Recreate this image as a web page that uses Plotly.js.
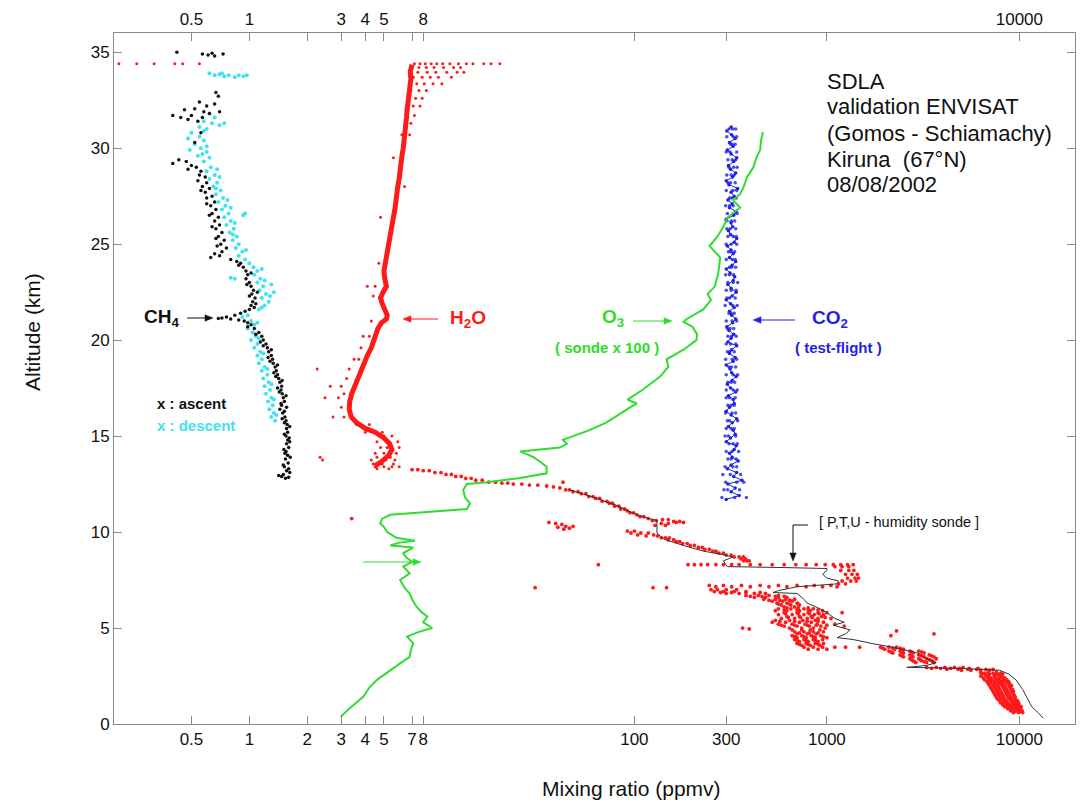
<!DOCTYPE html>
<html>
<head>
<meta charset="utf-8">
<script src="https://cdn.plot.ly/plotly-3.0.1.min.js"></script>
<style>html,body{margin:0;padding:0;background:#fff;}#chart{width:1080px;height:803px;}</style>
</head>
<body>
<div id="chart"></div>
<script>
// ---------------- DATA (altitude km, mixing ratio ppmv) ----------------
const xTickVals = [0.5, 1, 2, 3, 4, 5, 7, 8, 100, 300, 1000, 10000];
const xTickTextBottom = ['0.5', '1', '2', '3', '4', '5', '7', '8', '100', '300', '1000', '10000'];
const xTopLabelVals = [0.5, 1, 3, 4, 5, 8, 10000];
const xTopLabelText = ['0.5', '1', '3', '4', '5', '8', '10000'];
const xTopPlainTicks = [2, 7, 100, 300, 1000];
const yTickVals = [0, 5, 10, 15, 20, 25, 30, 35];

// CH4 ascent (black) [alt, ppmv]
const ch4Ascent = [
 [35.0,0.42],[34.9,0.57],[34.85,0.61],[34.95,0.64],[34.8,0.66],[34.9,0.73],
 [32.9,0.67],[32.7,0.69],
 [32.4,0.55],[32.2,0.60],[32.3,0.66],[32.0,0.46],[32.05,0.52],[31.9,0.58],[31.8,0.62],[31.9,0.70],
 [31.7,0.40],[31.6,0.44],[31.7,0.50],[31.5,0.48],[31.4,0.54],[31.6,0.57],
 [30.8,0.56],[30.3,0.52],
 [29.4,0.43],[29.3,0.47],[29.2,0.40],[29.1,0.50],[29.0,0.53],[28.9,0.48],[28.8,0.56],
 [28.6,0.55],[28.5,0.59],[28.3,0.54],[28.2,0.60],[28.0,0.57],[27.9,0.62],[27.7,0.59],[27.5,0.64],
 [27.4,0.60],[27.2,0.66],[27.0,0.63],[26.8,0.67],[26.6,0.64],[26.4,0.69],[26.2,0.66],[26.0,0.70],
 [25.8,0.67],[25.6,0.72],[25.4,0.69],[25.2,0.74],[25.0,0.71],[24.8,0.76],[24.6,0.72],[24.5,0.66],
 [24.4,0.70],[24.3,0.63],[24.2,0.80],[24.1,0.86],[24.0,0.90],[23.8,0.93],[23.6,0.96],[23.4,0.98],
 [23.2,0.96],[23.0,1.00],[22.8,1.02],[22.6,1.05],[22.4,1.03],[22.2,1.07],[22.0,1.04],[21.8,1.02],
 [21.6,1.00],[21.5,0.95],[21.4,0.90],[21.3,0.84],[21.2,0.76],[21.15,0.72],[21.12,0.69],[21.1,0.80],[21.05,0.88],
 [21.0,0.94],[20.9,0.98],[20.8,1.02],[20.6,1.06],[20.4,1.12],[20.2,1.16],[20.0,1.18],[19.8,1.22],
 [19.6,1.24],[19.4,1.26],[19.2,1.30],[19.0,1.32],[18.8,1.33],[18.6,1.36],[18.4,1.38],[18.2,1.40],
 [18.0,1.42],[17.8,1.44],[17.6,1.47],[17.4,1.46],[17.2,1.48],[17.0,1.50],[16.8,1.52],[16.6,1.47],
 [16.4,1.44],[16.2,1.49],[16.0,1.53],[15.8,1.55],[15.6,1.57],[15.4,1.56],[15.2,1.58],[15.0,1.55],
 [14.8,1.58],[14.6,1.56],[14.4,1.60],[14.2,1.55],[14.0,1.58],[13.8,1.54],[13.6,1.59],[13.4,1.52],
 [13.2,1.56],[13.0,1.50],[12.9,1.47],[12.8,1.54],
 [23.9,0.88],[23.5,1.02],[22.9,0.97],[22.5,1.10],[21.9,1.08],[20.7,0.98],[20.3,1.08],[19.9,1.14],
 [19.5,1.30],[19.1,1.25],[18.7,1.40],[18.3,1.34],[17.9,1.48],[17.5,1.40],[17.1,1.55],[16.7,1.46],
 [16.3,1.52],[15.9,1.48],[15.5,1.62],[15.1,1.52],[14.7,1.62],[14.3,1.51],[13.9,1.63],[13.5,1.50],
 [13.1,1.62],[12.95,1.42],[12.85,1.60],
 [27.8,0.56],[27.1,0.60],[26.5,0.62],[25.9,0.64],[25.3,0.67],[24.9,0.68],[22.3,1.00],[21.7,1.06],
 [19.7,1.18],[18.9,1.28],[18.1,1.37],[17.3,1.43],[16.5,1.56],[15.7,1.52],[14.9,1.61],[14.1,1.53],[13.3,1.60]
];

// CH4 descent (cyan) [alt, ppmv]
const ch4Descent = [
 [33.9,0.62],[33.8,0.66],[33.85,0.70],[33.75,0.74],[33.8,0.78],[33.7,0.84],[33.8,0.88],[33.75,0.93],[33.8,0.97],[33.9,0.72],
 [31.8,0.62],[31.6,0.66],[31.4,0.58],[31.3,0.64],[31.2,0.70],[31.1,0.55],[31.0,0.60],[31.3,0.74],
 [30.8,0.50],[30.6,0.55],[30.5,0.48],[30.4,0.58],[30.2,0.52],[30.0,0.56],[29.9,0.49],[29.8,0.60],[29.6,0.54],[29.5,0.62],
 [29.3,0.58],[29.0,0.63],[28.8,0.60],[28.6,0.66],[28.4,0.62],[28.2,0.68],[28.0,0.65],[27.8,0.71],
 [27.6,0.67],[27.4,0.73],[27.2,0.69],[27.0,0.75],
 [26.8,0.72],[26.6,0.78],[26.4,0.74],[26.2,0.80],[26.0,0.76],[25.8,0.83],[25.6,0.79],[25.4,0.86],
 [25.2,0.82],[25.0,0.88],[24.8,0.85],[24.6,0.92],[24.4,0.88],[24.2,0.95],[26.5,0.93],[26.6,0.95],
 [24.0,1.00],[23.8,1.05],[23.6,1.10],[23.4,1.06],[23.2,1.14],[23.0,1.10],[22.8,1.18],[22.6,1.13],
 [22.4,1.22],[22.2,1.16],[22.0,1.26],[21.8,1.20],[21.6,1.12],[22.9,1.30],[22.5,1.34],
 [23.25,0.80],[23.2,0.84],[21.3,0.98],[21.2,0.92],
 [21.0,1.02],[20.8,1.06],[20.6,0.98],[20.4,1.04],[20.2,1.08],[20.0,1.02],[19.8,1.10],[19.6,1.06],
 [19.4,1.14],[19.2,1.10],
 [19.0,1.16],[18.8,1.12],[18.6,1.20],[18.4,1.16],[18.2,1.24],[18.0,1.18],[17.8,1.26],[17.6,1.20],
 [17.4,1.28],[17.2,1.22],[17.0,1.30],[16.8,1.25],[16.6,1.32],[16.4,1.27],[16.2,1.34],[16.0,1.30],[15.8,1.36],
 [30.9,0.58],[30.1,0.60],[29.7,0.57],[28.9,0.68],[28.5,0.70],[27.9,0.67],[27.3,0.77],[26.9,0.80],
 [26.1,0.84],[25.5,0.82],[24.7,0.96],[23.7,1.16],[23.1,1.20],[22.3,1.28],[21.7,1.16],[20.9,1.10],
 [20.1,1.12],[19.3,1.18],[18.5,1.24],[17.7,1.30],[16.9,1.34],[16.1,1.38]
];

// H2O core profile (red band), stratosphere
const h2oCoreAlt = [34.35,34.0,33.6,33.2,32.8,32.4,32.0,31.6,31.2,30.8,30.4,30.0,29.6,29.2,28.8,28.4,28.0,27.6,27.2,26.8,26.4,26.0,25.6,25.2,24.8,24.4,24.0,23.6,23.2,22.8,22.5,22.2,21.9,21.6,21.3,21.1,20.9,20.6,20.3,20.0,19.6,19.2,18.8,18.4,18.0,17.6,17.2,16.8,16.4,16.0,15.7,15.4,15.2,14.9,14.6,14.3,14.0,13.7,13.45];
const h2oCoreVal = [7.0,6.85,6.9,6.8,6.75,6.7,6.6,6.55,6.5,6.4,6.35,6.3,6.2,6.15,6.05,6.0,5.9,5.85,5.75,5.7,5.6,5.5,5.4,5.35,5.25,5.15,5.05,5.0,5.05,5.15,4.95,4.8,4.9,5.05,5.2,5.15,4.85,4.65,4.55,4.45,4.3,4.1,3.95,3.8,3.65,3.5,3.4,3.32,3.3,3.38,3.6,4.0,4.5,5.0,5.35,5.5,5.3,4.9,4.5];

// H2O scattered points [alt, ppmv, ppmv, ...]
const h2oStratRows = [
 [34.4,0.21,0.26,0.32,0.41,0.45,0.55,7.2,7.7,8.2,8.8,9.4,10.1,11.0,12.2,13.4,14.5,16.5,18.0,20.0],
 [34.2,7.0,7.6,8.3,9.1,10.2,11.5,12.5],[33.95,6.9,7.5,8.4,9.3,10.6,12.0,13.0],
 [33.7,7.1,7.9,8.7,9.6,11.2],[33.35,6.8,7.4,8.1,9.0,10.0],[33.0,6.9,7.6,8.3],
 [32.6,6.7,7.3,7.9],[32.2,6.6,7.1,7.7],[31.7,6.5,7.2],[31.3,6.45,6.9],[30.7,6.2,6.8],
 [29.5,5.6],[28.0,6.4],[26.4,4.8],[24.0,4.7],[22.8,4.1,4.5],[22.3,4.4],[21.0,4.3],
 [20.2,3.9,4.2],[19.6,3.8],[19.0,3.7,3.5],[18.5,3.3,2.25],[18.0,3.2],[17.6,2.63,3.0],
 [17.2,3.1],[17.0,2.47,2.9],[16.5,3.0],[16.0,3.1,2.72],[15.6,3.6,4.2],[15.2,4.0,4.9],
 [15.0,5.0,5.5],[14.7,4.6,5.9],[14.4,4.8,5.2,6.0],[14.1,4.5,5.0,5.8],[13.9,2.33,4.6,5.4],
 [13.75,2.4,4.3,5.1,5.7],[13.55,4.4,4.9,5.6],[13.4,4.5,5.0,5.5,6.0],[13.3,4.6,5.3]
];
const h2oTropoRows = [
 [13.25,7.0,7.5],[13.2,8.0,8.6],[13.1,9.2,9.9],[13.0,10.5,11.2],[12.9,11.8,12.6],[12.8,13.3,14.2],
 [12.7,15.0,16.2],[12.6,17.5,19.0,42.6],[12.55,20.5,22.0],[12.5,23.5,26.0],[12.45,28.5,31.5],
 [12.4,35.0],[12.35,38.0],[12.3,41.0],[12.2,44.0,46.0],[12.1,48.0,51.0],[12.0,53.0,56.0],
 [11.85,58.0,61.0],[11.75,63.0,66.0],[11.6,68.0,72.0],[11.5,74.0,77.0],[11.35,79.0,83.0],
 [11.2,85.0,89.0],[11.1,92.0],[11.0,95.0,99.0],[10.9,103.0],[10.8,107.0,112.0],[10.7,118.0,3.4],
 [10.6,124.0,130.0],[10.65,140,150],[10.55,160,172],[10.5,180,165,36],[10.45,150,138,39],[10.35,128,145],
 [10.4,42],[10.3,44,48],[10.25,40],[10.2,46],[10.15,43],
 [10.05,92,100],[9.95,96,108,118],[9.85,104,126],[9.8,115,132],
 [9.7,138,145,152],[9.6,150,160],[9.5,165,172],[9.4,178,188],[9.3,195,205],[9.2,215,225],
 [9.1,232,245],[9.0,255,265],[8.9,275,290],[8.8,300,318],[8.7,330,350,368],[8.6,358,378],[8.5,370,385,395],
 [8.3,65,190,205,222,240,265,290,320,350,400,450,520,600,690,780,880,980,1080,1180,1280,1370],
 [8.2,1100,1200,1300],[8.0,1180,1300,1380],[7.8,1250,1350,1440],[7.6,1280,1400,1460],
 [7.45,1200,1330,1420],[7.3,1150,1250],
 [7.22,245,290,360,450,560,700,860,1050],[7.15,265,320,400,500,620,780,950,1130],
 [7.1,30.5,125,147],
 [7.0,250,270,300,340],[6.9,260,290,330,380],[6.8,300,350,420,480],[6.7,380,440,500,560],
 [6.6,420,480,560,620],[6.5,470,540,610,680],[6.4,520,590,660],[6.3,550,620,700],[6.2,580,650,720],[6.1,600,680],
 [6.85,280,320,380,450],[6.65,400,460,540,600],[6.45,500,570,640],[6.25,560,640,710],[6.05,620,710,800],
 [6.0,560,650,760,850],[5.9,540,620,720,820,950],[5.8,600,700,800,900,1000,1200],[5.7,560,660,760,860,960],
 [5.6,620,720,830,940],[5.5,580,680,790,900,1050],[5.4,540,640,750,870],[5.3,520,610,720,830,960],
 [5.2,560,660,770,890,1100],[5.1,600,700,810,930,1230],[5.0,640,740,850,980,365],[4.95,395],
 [5.95,600,700,800,900],[5.75,610,710,810,910],[5.55,630,730,840,980],[5.35,570,680,790,900],[5.15,580,680,790,880,1000],
 [4.9,660,740,820,920],[4.85,2300],[4.8,680,760,850,960],[4.7,700,790,880,3600],[4.6,660,740,830,930,2150],
 [4.5,700,780,870,1000],[4.4,680,760,850,950],[4.3,720,800,900],[4.2,700,780,870,960],[4.1,740,820,920],
 [4.75,720,810,900],[4.55,680,760,850,960],[4.45,690,770,860],[4.35,700,780,870],[4.15,720,800,900],
 [4.0,760,850,950,1100,1250,1480,1900,2100,2300],[3.9,800,900,1000,2000,2250,2500],
 [3.8,2100,2400,2700,3000],[3.7,2200,2500,2800,3200],[3.6,2400,2700,3000,3400],[3.5,2500,2800,3200,3600],
 [3.4,2700,3000,3300,3700],[3.3,2800,3100,3500],[3.2,2900,3300,3600],
 [3.95,1950,2200,2400],[3.75,2150,2450,2750,3100],[3.55,2450,2750,3100,3500],[3.35,2750,3050,3400],[3.25,2850,3200,3550],
 [2.95,3300,3700,4100,4600,5100],[2.9,3500,3900,4400,4900,5500,6100],[2.85,4200,4800,5400,6000,6700,7300],
 [2.8,5000,5600,6300,7000],
 [2.7,6300,6900,7600],[2.6,6400,7000,7700,8200],[2.5,6300,6900,7500,8100],[2.4,6500,7100,7800,8400],
 [2.3,6600,7200,7900,8600],[2.2,6800,7400,8100,8800],[2.1,6900,7500,8200,8900],[2.0,7000,7700,8400,9100],
 [1.9,7100,7800,8500],[1.8,7200,7900,8600,9200],[1.7,7300,8000,8700,9300],[1.6,7400,8100,8800],
 [1.5,7500,8200,8900,9400],[1.4,7600,8300,9000,9500],[1.3,7700,8400,9100],[1.2,7900,8600,9300,9800],
 [1.1,8000,8700,9400,9900],[1.0,8200,8900,9600],[0.9,8400,9100,9800,10200],[0.8,8700,9300,10000],
 [0.7,9000,9600,10300],[0.6,9300,9900,10400],
 [2.65,6600,7300,8000],[2.55,6700,7400,7900],[2.45,6800,7400,8100],[2.35,6900,7500,8300],[2.25,7000,7700,8400],
 [2.15,7100,7800,8600],[2.05,7300,8000,8800],[1.95,7400,8200,8900],[1.85,7500,8300,9000],[1.75,7600,8400,9100],
 [1.65,7700,8500,9200],[1.55,7800,8600,9300],[1.45,7900,8700,9400],[1.35,8000,8800,9500],[1.25,8200,9000,9600],
 [1.15,8300,9100,9700],[1.05,8500,9200,9900],[0.95,8700,9400,10000],[0.85,8900,9600,10100],[0.75,9200,9800,10200],
 [0.65,9500,10100]
];

// O3 sonde x 100 (green line)
const o3Alt = [0.38,0.8,1.42,1.9,2.3,2.7,3.16,3.5,3.85,4.2,4.55,4.8,5.0,5.3,5.6,5.85,6.1,6.5,6.8,7.1,7.5,7.85,8.2,8.45,8.7,8.9,9.2,9.3,9.45,9.55,9.7,10.0,10.3,10.45,10.7,10.9,11.05,11.2,11.5,11.8,12.2,12.5,12.6,12.8,13.06,13.4,13.7,13.9,14.2,14.3,14.4,14.6,14.8,15.0,15.3,15.7,16.1,16.5,16.7,16.9,17.4,17.8,18.1,18.6,19.0,19.5,20.0,20.3,20.7,20.95,21.1,21.6,22.1,22.4,22.8,23.5,24.3,24.9,25.4,25.9,26.4,26.9,27.3,27.6,28.0,28.5,29.0,29.5,29.9,30.4,30.85];
const o3Val = [2.98,3.3,3.9,4.2,4.6,5.2,6.07,6.8,6.9,7.1,6.6,7.6,8.9,8.0,8.4,7.8,7.4,7.0,6.8,6.4,6.07,6.8,6.3,7.0,6.5,6.3,7.1,5.4,6.0,7.25,5.8,5.2,4.97,4.78,4.9,5.39,9.0,13.5,14.0,13.2,12.9,13.5,17.1,25,35,35,32,29.9,25.5,33,41,44.6,42.5,48,58,71.4,82,95,103,92,110,125,136,150,147,180,210,212,200,180,187,228,250,240,262,273,279,246,270,290,305,354,325,354,370,385,415,430,450,455,465];

// P,T,U humidity sonde (black line)
const ptuAlt = [0.3,0.6,0.9,1.3,1.8,2.3,2.6,2.8,2.85,2.9,2.95,3.05,3.2,3.4,3.7,4.0,4.2,4.4,4.5,4.7,4.9,5.15,5.3,5.5,5.8,6.05,6.3,6.55,6.8,6.85,6.95,7.15,7.3,7.45,7.6,7.8,8.0,8.1,8.15,8.2,8.5,8.7,8.85,9.0,9.3,9.6,9.8,9.95,10.3,10.6,10.8,11.0,11.4,11.8,12.2];
const ptuVal = [13300,12500,11600,11000,10400,9600,8800,7900,6000,4900,2600,3300,3700,3300,2950,2200,1700,1370,1130,1250,1320,1080,1230,1100,1000,900,790,750,700,525,560,700,1130,1150,1000,950,1000,1000,600,304,290,325,280,230,180,145,136,131,131,131,110,98,80,62,46];

// CO2 test-flight (blue): profile and extra samples [alt, ppmv, ...]
const co2Alt = [11.7,11.9,12.1,12.3,12.5,12.7,12.9,13.1,13.3,13.5,13.7,13.9,14.1,14.3,14.5,14.7,14.9,15.1,15.3,15.5,15.7,15.9,16.1,16.3,16.5,16.7,16.9,17.1,17.3,17.5,17.7,17.9,18.1,18.3,18.5,18.7,18.9,19.1,19.3,19.5,19.7,19.9,20.1,20.3,20.5,20.7,20.9,21.1,21.3,21.5,21.7,21.9,22.1,22.3,22.5,22.7,22.9,23.1,23.3,23.5,23.7,23.9,24.1,24.3,24.5,24.7,24.9,25.1,25.3,25.5,25.7,25.9,26.1,26.3,26.5,26.7,26.9,27.1,27.3,27.5,27.7,27.9,28.1,28.3,28.5,28.7,28.9,29.1,29.3,29.5,29.7,29.9,30.1,30.3,30.5,30.7,30.9,31.1];
const co2Val = [300,350,318,334,306,362,328,340,304,318,346,322,312,330,338,300,316,334,326,308,322,340,318,300,312,330,326,308,336,316,304,322,338,320,314,300,326,334,312,320,340,306,318,328,310,302,324,336,320,312,330,316,300,322,338,318,306,326,332,314,300,322,336,312,326,318,304,330,340,316,308,324,318,300,328,338,312,322,306,330,318,344,310,300,324,336,316,308,328,340,318,304,326,312,334,320,302,318];
const co2ExtraRows = [
 [11.8,285,332,382],[12.2,305,352,292],[12.6,340,298,370],[13.0,315,288,356],[13.4,296,340,325],
 [13.8,338,306,318],[14.2,300,322,348],[14.6,326,310,342],[15.0,308,336,296],[15.4,330,300,318],
 [15.8,312,344,304],[16.2,322,298,336],[16.6,306,330,318],[17.0,334,312,300],[17.4,300,326,342],
 [17.8,318,306,332],[18.2,326,300,344],[18.6,310,336,320],[19.0,298,322,340],[19.4,330,312,304],
 [19.8,316,300,336],[20.2,338,320,306],[20.6,304,328,314],[21.0,322,340,300],[21.4,310,330,318],
 [21.8,296,324,342],[22.2,334,312,302],[22.6,318,300,338],[23.0,306,326,344],[23.4,328,312,298],
 [23.8,312,336,320],[24.2,300,322,334],[24.6,332,308,316],[25.0,318,340,300],[25.4,306,326,338],
 [25.8,336,314,302],[26.2,320,300,332],[26.6,304,330,342],[27.0,326,312,298],[27.4,312,338,322],
 [27.8,300,324,340],[28.2,334,316,306],[28.6,318,302,330],[29.0,328,342,310],[29.4,306,322,336],
 [29.8,340,314,300],[30.2,316,334,322],[30.6,302,326,340],[31.0,324,310,336]
];

// ---------------- BUILD ----------------
function pairs(list){ return {alt: list.map(p => p[0]), val: list.map(p => p[1])}; }
function rows(list){
  const alt = [], val = [];
  list.forEach(r => { for (let i = 1; i < r.length; i++) { alt.push(r[0]); val.push(r[i]); } });
  return {alt, val};
}
const asc = pairs(ch4Ascent), desc = pairs(ch4Descent);
const h2oS = rows(h2oStratRows), h2oT = rows(h2oTropoRows), co2E = rows(co2ExtraRows);

const RED = '#ff1a1a', GREEN = '#2fdc2f', BLUE = '#1f1fe6', CYAN = '#3fe3ef';
const FONT = 'Liberation Sans, Arial, Helvetica, sans-serif';

const traces = [
  {x: desc.val, y: desc.alt, mode: 'markers', type: 'scatter', marker: {color: CYAN, size: 4}},
  {x: asc.val, y: asc.alt, mode: 'markers', type: 'scatter', marker: {color: '#111', size: 3.5}},
  {x: h2oCoreVal, y: h2oCoreAlt, mode: 'lines', type: 'scatter', line: {color: RED, width: 5}},
  {x: h2oS.val, y: h2oS.alt, mode: 'markers', type: 'scatter', marker: {color: RED, size: 3}},
  {x: h2oT.val, y: h2oT.alt, mode: 'markers', type: 'scatter', marker: {color: RED, size: 3.8}},
  {x: co2E.val, y: co2E.alt, mode: 'markers', type: 'scatter', marker: {color: BLUE, size: 3.5, opacity: 0.8}},
  {x: co2Val, y: co2Alt, mode: 'lines+markers', type: 'scatter', line: {color: BLUE, width: 1}, marker: {color: BLUE, size: 3.5}},
  {x: o3Val, y: o3Alt, mode: 'lines', type: 'scatter', line: {color: GREEN, width: 2}},
  {x: ptuVal, y: ptuAlt, mode: 'lines', type: 'scatter', line: {color: '#333', width: 1}},
  {x: [1], y: [-5], xaxis: 'x2', mode: 'markers', type: 'scatter', marker: {opacity: 0}, hoverinfo: 'skip'}
];

const L = 114, T = 33, W = 961, H = 691;
const px = v => (v - L) / W;
const py = v => (T + H - v) / H;

function label(x, y, text, color, size, bold, anchor){
  return {xref: 'paper', yref: 'paper', x: px(x), y: py(y), text: bold ? '<b>' + text + '</b>' : text,
          showarrow: false, xanchor: anchor || 'left', yanchor: 'middle',
          font: {family: FONT, size: size, color: color}};
}
// arrow drawn as shapes: shaft line + filled head (tail pixel -> head pixel)
function arrowShapes(tx, ty, hx, hy, color){
  const dx = hx - tx, dy = hy - ty, len = Math.hypot(dx, dy);
  const ux = dx / len, uy = dy / len, hl = 8, hw = 3.2;
  const bx = hx - ux * hl, by = hy - uy * hl;
  const p1 = [bx - uy * hw, by + ux * hw], p2 = [bx + uy * hw, by - ux * hw];
  const P = (x, y) => px(x) + ',' + py(y);
  return [
    {type: 'line', xref: 'paper', yref: 'paper', x0: px(tx), y0: py(ty), x1: px(bx), y1: py(by), line: {color: color, width: 1}},
    {type: 'path', xref: 'paper', yref: 'paper', path: 'M' + P(hx, hy) + ' L' + P(p1[0], p1[1]) + ' L' + P(p2[0], p2[1]) + ' Z',
     fillcolor: color, line: {color: color, width: 0.5}}
  ];
}

const annotations = [
  label(825, 81, 'SDLA', '#111', 22, false),
  label(825, 107, 'validation ENVISAT', '#111', 22, false),
  label(825, 133, '(Gomos - Schiamachy)', '#111', 22, false),
  label(825, 159, 'Kiruna  (67°N)', '#111', 22, false),
  label(825, 185, '08/08/2002', '#111', 22, false),
  label(142, 318, 'CH<sub>4</sub>', '#111', 19, true),
  label(155, 403, 'x : ascent', '#111', 15, true),
  label(155, 425, 'x : descent', CYAN, 15, true),
  label(448, 319, 'H<sub>2</sub>O', RED, 19, true),
  label(600, 318, 'O<sub>3</sub>', GREEN, 19, true),
  label(553, 347, '( sonde x 100 )', GREEN, 15, true),
  label(810, 319, 'CO<sub>2</sub>', BLUE, 19, true),
  label(793, 347, '( test-flight )', BLUE, 15, true),
  label(817, 522, '[ P,T,U - humidity sonde ]', '#111', 14.5, false),
  {xref: 'paper', yref: 'paper', x: px(631), y: py(788), text: 'Mixing ratio (ppmv)', showarrow: false,
   xanchor: 'center', yanchor: 'middle', font: {family: FONT, size: 21, color: '#111'}},
  {xref: 'paper', yref: 'paper', x: px(32), y: py(332), text: 'Altitude (km)', showarrow: false, textangle: -90,
   xanchor: 'center', yanchor: 'middle', font: {family: FONT, size: 21, color: '#111'}}
];

const shapes = [].concat(
  arrowShapes(187, 318, 213, 318, '#111'),
  arrowShapes(438, 319, 403, 319, RED),
  arrowShapes(633, 321, 672, 321, GREEN),
  arrowShapes(795, 320, 753, 320, BLUE),
  arrowShapes(363, 562, 421, 562, GREEN),
  arrowShapes(793, 525, 793, 561, '#111'),
  [{type: 'line', xref: 'paper', yref: 'paper', x0: px(793), x1: px(808), y0: py(525), y1: py(525),
    line: {color: '#111', width: 1}}]
);

const axisCommon = {
  type: 'log', range: [Math.log10(0.198), Math.log10(19450)], tickmode: 'array',
  ticks: 'inside', ticklen: 8, tickwidth: 1, tickcolor: '#888', showline: true, linecolor: '#888', linewidth: 1,
  showgrid: false, zeroline: false, tickangle: 0, tickfont: {family: FONT, size: 17, color: '#111'}
};

const layout = {
  width: 1080, height: 803,
  margin: {l: L, r: 1080 - L - W, t: T, b: 803 - T - H},
  paper_bgcolor: '#fff', plot_bgcolor: '#fff',
  showlegend: false,
  xaxis: Object.assign({}, axisCommon, {tickvals: xTickVals, ticktext: xTickTextBottom, side: 'bottom', mirror: false}),
  xaxis2: Object.assign({}, axisCommon, {tickvals: xTopLabelVals, ticktext: xTopLabelText, side: 'top', overlaying: 'x',
          minor: {tickmode: 'array', tickvals: xTopPlainTicks, ticks: 'inside', ticklen: 8, tickwidth: 1, tickcolor: '#888', showgrid: false}}),
  yaxis: {range: [0, 36], tickmode: 'array', tickvals: yTickVals, ticks: 'inside', ticklen: 8, tickcolor: '#888',
          showline: true, linecolor: '#888', mirror: 'ticks', showgrid: false, zeroline: false,
          tickfont: {family: FONT, size: 17, color: '#111'}},
  annotations: annotations,
  shapes: shapes
};

Plotly.newPlot('chart', traces, layout, {staticPlot: true, displayModeBar: false});
</script>
</body>
</html>
